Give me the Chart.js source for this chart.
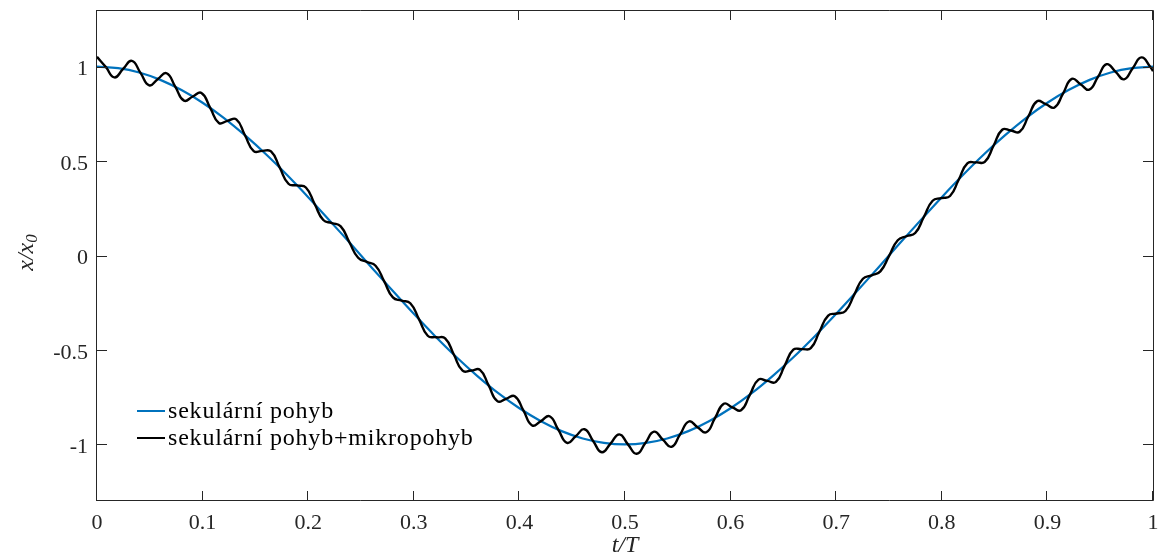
<!DOCTYPE html>
<html lang="cs">
<head>
    <meta charset="UTF-8">
    <title>Sekulární pohyb a mikropohyb</title>
    <script src="https://cdn.jsdelivr.net/npm/chart.js"></script>
    <style>
        html, body { margin: 0; padding: 0; background: #fff; }
        .chart-container { position: relative; width: 1159px; height: 559px; }
    </style>
</head>
<body>
    <div class="chart-container">
        <canvas id="pohybChart"></canvas>
    </div>

    <script>
    // Sekulární pohyb (modrá)
    const tSekularni = [
        0, 0.02, 0.04, 0.06, 0.08, 0.10, 0.12, 0.14, 0.16, 0.18,
        0.20, 0.22, 0.24, 0.26, 0.28, 0.30, 0.32, 0.34, 0.36, 0.38,
        0.40, 0.42, 0.44, 0.46, 0.48, 0.50, 0.52, 0.54, 0.56, 0.58,
        0.60, 0.62, 0.64, 0.66, 0.68, 0.70, 0.72, 0.74, 0.76, 0.78,
        0.80, 0.82, 0.84, 0.86, 0.88, 0.90, 0.92, 0.94, 0.96, 0.98, 1
    ];
    const xSekularni = [
        1, 0.992, 0.969, 0.930, 0.876, 0.809, 0.729, 0.637, 0.536, 0.426,
        0.309, 0.187, 0.063, -0.063, -0.187, -0.309, -0.426, -0.536, -0.637, -0.729,
        -0.809, -0.876, -0.930, -0.969, -0.992, -1, -0.992, -0.969, -0.930, -0.876,
        -0.809, -0.729, -0.637, -0.536, -0.426, -0.309, -0.187, -0.063, 0.063, 0.187,
        0.309, 0.426, 0.536, 0.637, 0.729, 0.809, 0.876, 0.930, 0.969, 0.992, 1
    ];

    // Sekulární pohyb + mikropohyb (černá)
    const tMikro = [
        0, 0.0082, 0.0165, 0.0247, 0.0330, 0.0412, 0.0495, 0.0577, 0.0659, 0.0742,
        0.0824, 0.0907, 0.0989, 0.1072, 0.1154, 0.1236, 0.1319, 0.1401, 0.1484, 0.1566,
        0.1648, 0.1731, 0.1813, 0.1896, 0.1978, 0.2061, 0.2143, 0.2225, 0.2308, 0.2390,
        0.2473, 0.2555, 0.2638, 0.2720, 0.2802, 0.2885, 0.2967, 0.3050, 0.3132, 0.3215,
        0.3297, 0.3379, 0.3462, 0.3544, 0.3627, 0.3709, 0.3791, 0.3874, 0.3956, 0.4039,
        0.4121, 0.4204, 0.4286, 0.4368, 0.4451, 0.4533, 0.4616, 0.4698, 0.4781, 0.4863,
        0.4946, 0.5028, 0.5110, 0.5193, 0.5275, 0.5358, 0.5440, 0.5522, 0.5605, 0.5687,
        0.5770, 0.5852, 0.5935, 0.6017, 0.6099, 0.6182, 0.6264, 0.6347, 0.6429, 0.6512,
        0.6594, 0.6676, 0.6759, 0.6841, 0.6924, 0.7006, 0.7088, 0.7171, 0.7253, 0.7336,
        0.7418, 0.7501, 0.7583, 0.7665, 0.7748, 0.7830, 0.7913, 0.7995, 0.8078, 0.8160,
        0.8242, 0.8325, 0.8407, 0.8490, 0.8572, 0.8655, 0.8737, 0.8819, 0.8902, 0.8984,
        0.9067, 0.9149, 0.9231, 0.9314, 0.9396, 0.9479, 0.9561, 0.9644, 0.9726, 0.9808,
        0.9891, 0.9973, 1
    ];
    const xMikro = [
        1.052, 0.999, 0.943, 0.988, 1.031, 0.967, 0.901, 0.935, 0.965, 0.893,
        0.820, 0.842, 0.861, 0.782, 0.702, 0.713, 0.721, 0.637, 0.553, 0.554,
        0.551, 0.465, 0.380, 0.371, 0.360, 0.273, 0.188, 0.172, 0.154, 0.070,
        -0.012, -0.034, -0.054, -0.137, -0.222, -0.239, -0.253, -0.338, -0.425, -0.433,
        -0.439, -0.524, -0.610, -0.609, -0.606, -0.688, -0.771, -0.759, -0.745, -0.822,
        -0.900, -0.877, -0.851, -0.922, -0.992, -0.957, -0.920, -0.982, -1.042, -0.996,
        -0.947, -1.000, -1.050, -0.993, -0.933, -0.975, -1.013, -0.947, -0.879, -0.909,
        -0.936, -0.861, -0.785, -0.804, -0.819, -0.738, -0.657, -0.664, -0.669, -0.583,
        -0.499, -0.496, -0.491, -0.404, -0.318, -0.307, -0.294, -0.207, -0.123, -0.105,
        -0.084, -0.002, 0.081, 0.102, 0.119, 0.204, 0.290, 0.304, 0.315, 0.401,
        0.488, 0.493, 0.496, 0.581, 0.666, 0.662, 0.655, 0.736, 0.817, 0.802,
        0.784, 0.859, 0.935, 0.907, 0.878, 0.946, 1.013, 0.974, 0.933, 0.992,
        1.049, 1.000, 0.976
    ];

    // Osy
    const xTicks = [0, 0.1, 0.2, 0.3, 0.4, 0.5, 0.6, 0.7, 0.8, 0.9, 1];
    const xTickLabels = ['0', '0.1', '0.2', '0.3', '0.4', '0.5', '0.6', '0.7', '0.8', '0.9', '1'];
    const yTicks = [-1, -0.5, 0, 0.5, 1];
    const yTickLabels = ['-1', '-0.5', '0', '0.5', '1'];

    const seriesNames = ['sekulární pohyb', 'sekulární pohyb+mikropohyb'];

    const colors = {
        blue: '#0072BD',
        black: '#000000',
        axis: '#262626'
    };
    const serif = '"Liberation Serif", "DejaVu Serif", serif';

    // bez automatického odsazení kvůli popiskům
    function noPadding(s) {
        s.paddingTop = 0;
        s.paddingBottom = 0;
        s.paddingLeft = 0;
        s.paddingRight = 0;
    }

    // rámeček a tiky dovnitř (MATLAB styl)
    const ramecek = {
        id: 'ramecek',
        afterDatasetsDraw(chart) {
            const {ctx, chartArea: a, scales} = chart;
            const tl = 10;
            ctx.save();
            ctx.strokeStyle = colors.axis;
            ctx.lineWidth = 1;
            ctx.beginPath();
            ctx.rect(Math.round(a.left) - 0.5, Math.round(a.top) + 0.5,
                     Math.round(a.right - a.left) + 1, Math.round(a.bottom - a.top) - 1);
            xTicks.forEach(v => {
                const px = Math.round(scales.x.getPixelForValue(v)) - 0.5;
                ctx.moveTo(px, a.bottom);
                ctx.lineTo(px, a.bottom - tl);
                ctx.moveTo(px, a.top);
                ctx.lineTo(px, a.top + tl);
            });
            yTicks.forEach(v => {
                const py = Math.round(scales.y.getPixelForValue(v)) + 0.5;
                ctx.moveTo(a.left, py);
                ctx.lineTo(a.left + tl, py);
                ctx.moveTo(a.right, py);
                ctx.lineTo(a.right - tl, py);
            });
            ctx.stroke();

            // popisky os
            ctx.fillStyle = colors.axis;
            ctx.textBaseline = 'middle';
            ctx.textAlign = 'center';
            ctx.font = 'italic 24px ' + serif;
            ctx.fillText('t/T', (a.left + a.right) / 2, 546);

            ctx.translate(27, (a.top + a.bottom) / 2 - 3);
            ctx.rotate(-Math.PI / 2);
            ctx.textAlign = 'left';
            const w1 = ctx.measureText('x/x').width;
            ctx.font = 'italic 17px ' + serif;
            const w2 = ctx.measureText('0').width;
            const x0 = -(w1 + w2) / 2;
            ctx.font = 'italic 24px ' + serif;
            ctx.fillText('x/x', x0, 0);
            ctx.font = 'italic 17px ' + serif;
            ctx.fillText('0', x0 + w1, 6);
            ctx.restore();
        }
    };

    // legenda uvnitř grafu
    const legenda = {
        id: 'legenda',
        afterDraw(chart) {
            const {ctx, chartArea: a} = chart;
            const lx = a.left + 40;
            const rows = [
                {label: seriesNames[0], color: colors.blue, y: 411},
                {label: seriesNames[1], color: colors.black, y: 438}
            ];
            ctx.save();
            ctx.font = '24px ' + serif;
            ctx.letterSpacing = '0.8px';
            ctx.textBaseline = 'middle';
            ctx.textAlign = 'left';
            rows.forEach(r => {
                ctx.strokeStyle = r.color;
                ctx.lineWidth = 2;
                ctx.beginPath();
                ctx.moveTo(lx, r.y);
                ctx.lineTo(lx + 28, r.y);
                ctx.stroke();
                ctx.fillStyle = colors.black;
                ctx.fillText(r.label, lx + 31, r.y + 1);
            });
            ctx.restore();
        }
    };

    document.addEventListener('DOMContentLoaded', function() {
        const ctx = document.getElementById('pohybChart');
        new Chart(ctx, {
            type: 'line',
            data: {
                datasets: [
                    {
                        label: seriesNames[0],
                        data: tSekularni.map((t, i) => ({x: t, y: xSekularni[i]})),
                        borderColor: colors.blue,
                        borderWidth: 2.2,
                        pointRadius: 0,
                        tension: 0.4,
                        fill: false,
                        order: 1
                    },
                    {
                        label: seriesNames[1],
                        data: tMikro.map((t, i) => ({x: t, y: xMikro[i]})),
                        borderColor: colors.black,
                        borderWidth: 2.4,
                        pointRadius: 0,
                        tension: 0.5,
                        fill: false,
                        order: 0
                    }
                ]
            },
            options: {
                responsive: true,
                maintainAspectRatio: false,
                animation: false,
                layout: {
                    padding: {left: 0, right: 6, top: 10, bottom: 0}
                },
                plugins: {
                    legend: {display: false},
                    tooltip: {enabled: false}
                },
                scales: {
                    x: {
                        type: 'linear',
                        min: 0,
                        max: 1,
                        grid: {display: false, drawTicks: false},
                        border: {display: false},
                        afterBuildTicks: s => { s.ticks = xTicks.map(v => ({value: v})); },
                        afterFit: s => { s.height = 58; noPadding(s); },
                        ticks: {
                            autoSkip: false,
                            maxRotation: 0,
                            padding: 9,
                            color: colors.axis,
                            font: {family: serif, size: 22},
                            callback: (v, i) => xTickLabels[i]
                        }
                    },
                    y: {
                        type: 'linear',
                        min: -1.3,
                        max: 1.3,
                        grid: {display: false, drawTicks: false},
                        border: {display: false},
                        afterBuildTicks: s => { s.ticks = yTicks.map(v => ({value: v})); },
                        afterFit: s => { s.width = 97; noPadding(s); },
                        ticks: {
                            autoSkip: false,
                            padding: 9,
                            labelOffset: 3,
                            color: colors.axis,
                            font: {family: serif, size: 22},
                            callback: (v, i) => yTickLabels[i]
                        }
                    }
                }
            },
            plugins: [ramecek, legenda]
        });
    });
    </script>
</body>
</html>
